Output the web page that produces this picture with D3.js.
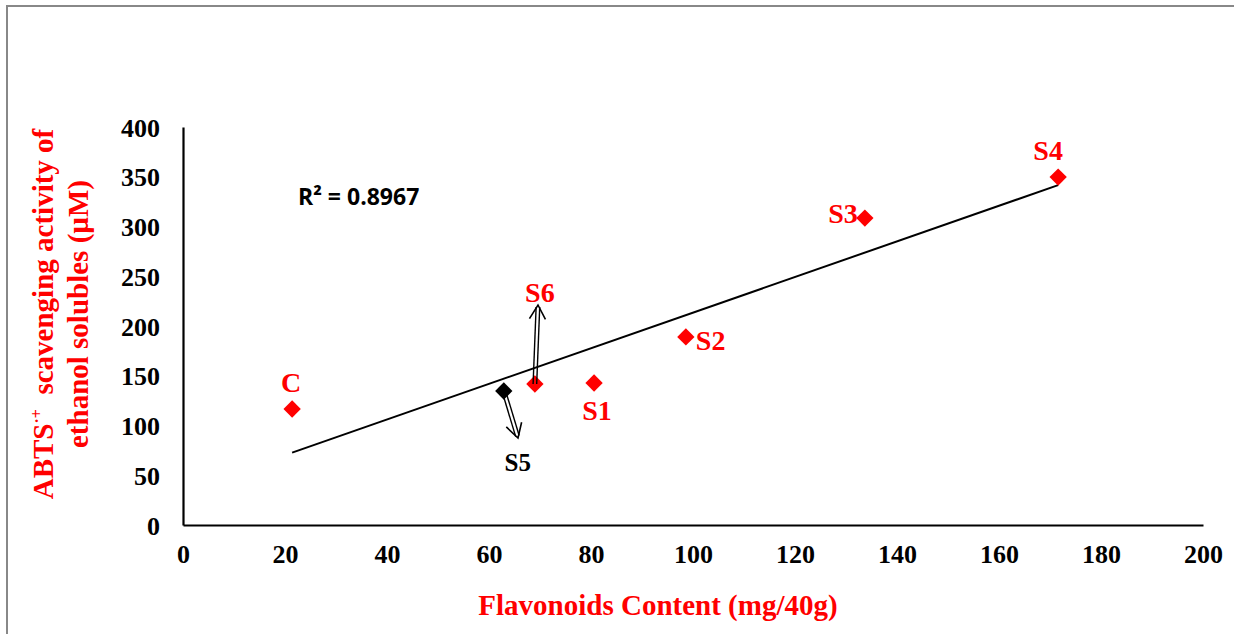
<!DOCTYPE html>
<html>
<head>
<meta charset="utf-8">
<script src="https://cdn.jsdelivr.net/npm/d3@7"></script>
<style>
  html, body { margin: 0; padding: 0; background: #fff; }
  svg { display: block; }
</style>
</head>
<body>
<svg id="chart" width="1234" height="634"></svg>
<script>
// Flavonoids content vs ABTS scavenging activity for each sample
const samples = ["C", "S5", "S6", "S1", "S2", "S3", "S4"];
const flavonoids = [21.4, 62.9, 69.0, 80.6, 98.6, 133.7, 171.6];
const abts = [116.6, 134.7, 141.7, 142.7, 189.0, 308.5, 349.7];
const xTicks = [0, 20, 40, 60, 80, 100, 120, 140, 160, 180, 200];
const yTicks = [0, 50, 100, 150, 200, 250, 300, 350, 400];
const r2Label = "R² = 0.8967";

const svg = d3.select("#chart");
const W = 1234, H = 634;
const plot = { left: 183, right: 1203, top: 127, bottom: 525 };

const x = d3.scaleLinear().domain([0, 200]).range([plot.left, plot.right]);
const y = d3.scaleLinear().domain([0, 400]).range([plot.bottom, plot.top]);

const serif = "'Liberation Serif', 'Times New Roman', serif";
const red = "#ff0000";

// outer frame
svg.append("path")
  .attr("d", `M7,${H + 5} L7,6 L${W + 5},6`)
  .attr("fill", "none").attr("stroke", "#888").attr("stroke-width", 2);

// axes (lines only, no tick marks)
const xAxis = d3.axisBottom(x).tickValues(xTicks).tickSize(0).tickPadding(20);
const yAxis = d3.axisLeft(y).tickValues(yTicks).tickSize(0).tickPadding(23);

const gx = svg.append("g").attr("transform", `translate(0,${plot.bottom})`).call(xAxis);
const gy = svg.append("g").attr("transform", `translate(${plot.left},0)`).call(yAxis);
[gx, gy].forEach(g => {
  g.select(".domain").attr("stroke", "#000").attr("stroke-width", 2.2);
  g.selectAll("text")
    .attr("font-family", serif).attr("font-weight", "bold")
    .attr("font-size", 26).attr("fill", "#000");
});
gy.selectAll("text").attr("dy", "0.35em");

// least-squares trend line over the sample range
const mx = d3.mean(flavonoids), my = d3.mean(abts);
const sxy = d3.sum(flavonoids, (v, i) => (v - mx) * (abts[i] - my));
const sxx = d3.sum(flavonoids, v => (v - mx) * (v - mx));
const slope = sxy / sxx, intercept = my - slope * mx;
const [x0, x1] = d3.extent(flavonoids);
svg.append("line")
  .attr("x1", x(x0)).attr("y1", y(slope * x0 + intercept))
  .attr("x2", x(x1)).attr("y2", y(slope * x1 + intercept))
  .attr("stroke", "#000").attr("stroke-width", 2);

// markers
const diamond = d3.symbol().type(d3.symbolSquare).size(150);
const pts = samples.map((s, i) => ({ s, fx: flavonoids[i], v: abts[i] }));
svg.append("g").selectAll("path").data(pts).join("path")
  .attr("d", diamond)
  .attr("transform", d => `translate(${x(d.fx)},${y(d.v)}) rotate(45)`)
  .attr("fill", d => d.s === "S5" ? "#000" : red);

// arrows pointing S5 and S6 to their labels
function hollowArrow(px, py, tx, ty) {
  const ang = Math.atan2(ty - py, tx - px);
  const nx = -Math.sin(ang), ny = Math.cos(ang);
  const w = 1.8, head = 14, hw = 8;
  const ux = Math.cos(ang), uy = Math.sin(ang);
  const g = svg.append("g").attr("fill", "none").attr("stroke", "#000").attr("stroke-width", 1.4);
  [w, -w].forEach(o => {
    g.append("line")
      .attr("x1", px + nx * o).attr("y1", py + ny * o)
      .attr("x2", tx + nx * o - ux * 2).attr("y2", ty + ny * o - uy * 2);
  });
  g.append("path")
    .attr("d", `M${tx - ux * head + nx * hw},${ty - uy * head + ny * hw} L${tx},${ty} L${tx - ux * head - nx * hw},${ty - uy * head - ny * hw}`)
    .attr("stroke-width", 1.6);
}
const s6 = pts.find(d => d.s === "S6");
const s5 = pts.find(d => d.s === "S5");
hollowArrow(x(s6.fx), y(s6.v), 538, 305);
hollowArrow(x(s5.fx), y(s5.v), 518, 438);

// sample labels
const labelPos = {
  C:  { dx: -1,  dy: -27, anchor: "middle", color: red },
  S1: { dx: 3,   dy: 27,  anchor: "middle", color: red },
  S2: { dx: 10,  dy: 3,   anchor: "start",  color: red },
  S3: { dx: -7,  dy: -5,  anchor: "end",    color: red },
  S4: { dx: -10, dy: -27, anchor: "middle", color: red },
  S5: { dx: 14,  dy: 71,  anchor: "middle", color: "#000", size: 25 },
  S6: { dx: 5,   dy: -92, anchor: "middle", color: red }
};
svg.append("g").selectAll("text").data(pts).join("text")
  .attr("x", d => x(d.fx) + labelPos[d.s].dx)
  .attr("y", d => y(d.v) + labelPos[d.s].dy)
  .attr("dy", "0.35em")
  .attr("text-anchor", d => labelPos[d.s].anchor)
  .attr("font-family", serif).attr("font-weight", "bold")
  .attr("font-size", d => labelPos[d.s].size || 28)
  .attr("fill", d => labelPos[d.s].color)
  .text(d => d.s);

// R² annotation
svg.append("text")
  .attr("x", 298).attr("y", 205)
  .attr("font-family", "'Open Sans', Carlito, Calibri, sans-serif")
  .attr("font-weight", "bold").attr("font-size", 23).attr("fill", "#000")
  .text(r2Label);

// axis titles
svg.append("text")
  .attr("x", 658).attr("y", 615)
  .attr("text-anchor", "middle")
  .attr("font-family", serif).attr("font-weight", "bold")
  .attr("font-size", 29).attr("fill", red)
  .text("Flavonoids Content (mg/40g)");

const yt = svg.append("text")
  .attr("transform", "translate(0,314) rotate(-90)")
  .attr("text-anchor", "middle")
  .style("white-space", "pre")
  .attr("font-family", serif).attr("font-weight", "bold")
  .attr("font-size", 29).attr("fill", red);
const l1 = yt.append("tspan").attr("x", 0).attr("y", 53);
l1.append("tspan").text("ABTS");
l1.append("tspan").attr("font-size", 16).attr("dy", -11).text("·+");
l1.append("tspan").attr("dy", 11).text("  scavenging activity of");
yt.append("tspan").attr("x", 0).attr("y", 88).text("ethanol solubles (µM)");
</script>
</body>
</html>
